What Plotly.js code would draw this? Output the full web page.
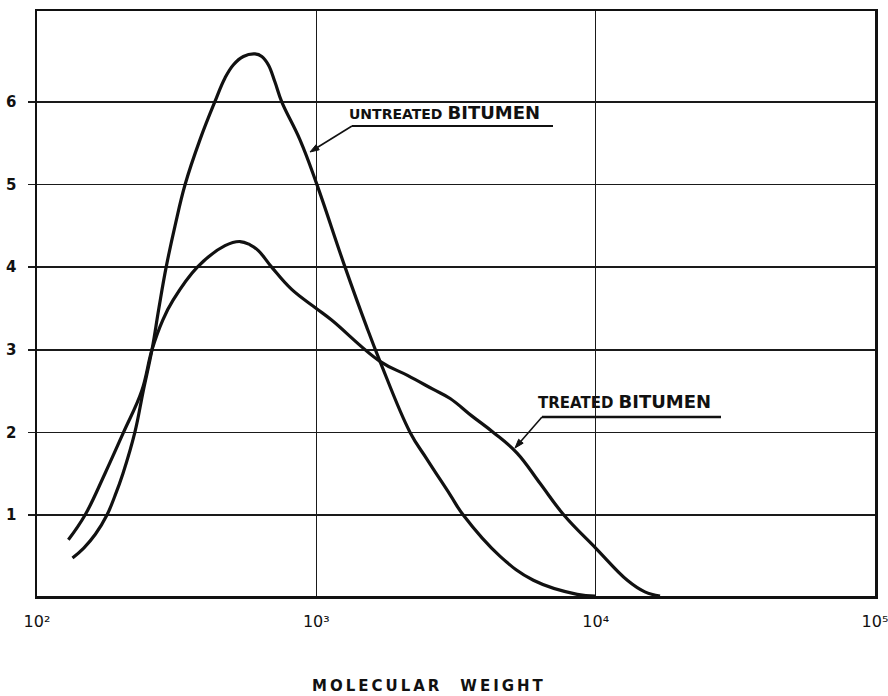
<!DOCTYPE html>
<html>
<head>
<meta charset="utf-8">
<script src="https://cdn.plot.ly/plotly-3.0.1.min.js"></script>
<style>
  html, body { margin: 0; padding: 0; background: #ffffff; }
  #chart { width: 888px; height: 696px; }
</style>
</head>
<body>
<div id="chart"></div>
<script>
// ---- data ----
const untreatedMW = [134, 147, 162, 178, 190, 203, 224, 240, 258, 273, 290, 312, 339, 383, 433, 471, 505, 548, 603, 638, 673, 711, 752, 874, 1000, 1267, 1513, 1690, 2166, 2484, 3006, 3357, 4550, 5985, 8590, 10000];
const untreatedVal = [0.48, 0.60, 0.77, 1.0, 1.23, 1.5, 2.0, 2.5, 3.0, 3.5, 4.0, 4.5, 5.0, 5.54, 6.0, 6.29, 6.45, 6.55, 6.58, 6.55, 6.45, 6.24, 6.0, 5.54, 5.02, 4.0, 3.28, 2.86, 2.0, 1.68, 1.25, 1.0, 0.5, 0.21, 0.04, 0.02];

const treatedMW = [129.5, 148.6, 175, 204, 237, 258, 282, 307, 375, 471, 533, 579, 620, 692, 816, 1000, 1134, 1690, 2120, 2624, 3013, 3600, 4303, 5231, 6300, 7694, 10000, 12980, 15000, 17000];
const treatedVal = [0.70, 1.0, 1.5, 2.0, 2.5, 3.0, 3.36, 3.60, 4.0, 4.26, 4.31, 4.27, 4.20, 4.0, 3.73, 3.50, 3.36, 2.86, 2.69, 2.52, 2.41, 2.2, 2.0, 1.75, 1.39, 1.0, 0.60, 0.21, 0.07, 0.02];

const xTickVals = [100, 1000, 10000, 100000];
const xTickText = ['10\u00B2', '10\u00B3', '10\u2074', '10\u2075'];
const yTickVals = [1, 2, 3, 4, 5, 6];
const yTickText = ['1', '2', '3', '4', '5', '6'];

const seriesNames = ['UNTREATED BITUMEN', 'TREATED BITUMEN'];
const xTitle = 'MOLECULAR WEIGHT';

// ---- drawing ----
const ink = '#111111';
const lineStyle = { color: ink, width: 3.2, shape: 'spline', smoothing: 1.15 };

const traces = [
  { x: untreatedMW, y: untreatedVal, name: seriesNames[0], mode: 'lines', line: lineStyle, hoverinfo: 'x+y' },
  { x: treatedMW, y: treatedVal, name: seriesNames[1], mode: 'lines', line: lineStyle, hoverinfo: 'x+y' }
];

// plot box: left 37, right 875, top 11, bottom 596 (pixels)
const L = 37, R = 875, T = 11, B = 596;
const px = v => (v - L) / (R - L);
const py = v => (B - v) / (B - T);

function spaced(s) {
  return s.split('').map(c => c === ' ' ? '\u2002\u2002' : c).join('\u2009');
}

// leader line with a small filled arrowhead, pixel points -> paper coords
function leader(tailX, tailY, headX, headY) {
  const dx = tailX - headX, dy = tailY - headY;
  const len = Math.hypot(dx, dy);
  const ux = dx / len, uy = dy / len;
  const bx = headX + ux * 9, by = headY + uy * 9;
  const nx = -uy, ny = ux;
  const p = (x, y) => px(x).toFixed(5) + ',' + py(y).toFixed(5);
  return [
    { type: 'line', xref: 'paper', yref: 'paper', x0: px(tailX), y0: py(tailY), x1: px(bx), y1: py(by), line: { color: ink, width: 1.6 } },
    { type: 'path', xref: 'paper', yref: 'paper',
      path: 'M' + p(headX, headY) + ' L' + p(bx + nx * 3, by + ny * 3) + ' L' + p(bx - nx * 3, by - ny * 3) + ' Z',
      fillcolor: ink, line: { color: ink, width: 1 } }
  ];
}

const layout = {
  width: 888, height: 696,
  margin: { l: L, r: 888 - R, t: T, b: 696 - B },
  paper_bgcolor: '#ffffff', plot_bgcolor: '#ffffff',
  showlegend: false,
  font: { family: 'DejaVu Sans, sans-serif', color: ink },
  xaxis: {
    type: 'log', range: [2, 5],
    tickvals: xTickVals, ticktext: xTickText,
    ticks: '', ticklabelstandoff: 9, ticklabeloverflow: 'allow',
    tickfont: { family: 'DejaVu Sans, sans-serif', size: 16, color: ink },
    showgrid: true, gridcolor: '#1a1a1a', gridwidth: 1.6,
    showline: true, linecolor: ink, linewidth: 2.5, mirror: true,
    zeroline: false, fixedrange: true
  },
  yaxis: {
    range: [0.02, 7.10],
    tickvals: yTickVals, ticktext: yTickText,
    ticks: 'outside', ticklen: 7, tickwidth: 1.5, tickcolor: '#1a1a1a',
    ticklabelstandoff: 8,
    tickfont: { family: 'DejaVu Sans, sans-serif', size: 15, color: ink, weight: 'bold' },
    showgrid: true, gridcolor: '#1a1a1a', gridwidth: 1.6,
    showline: true, linecolor: ink, linewidth: 2.5, mirror: true,
    zeroline: false, fixedrange: true
  },
  shapes: [
    { type: 'line', xref: 'paper', yref: 'paper', x0: px(352), x1: px(553), y0: py(126), y1: py(126), line: { color: ink, width: 2.2 } },
    { type: 'line', xref: 'paper', yref: 'paper', x0: px(542), x1: px(721), y0: py(417), y1: py(417), line: { color: ink, width: 2.6 } }
  ].concat(leader(352, 126, 310, 152), leader(542, 417, 515, 448)),
  annotations: [
    { xref: 'paper', yref: 'paper', x: px(347), y: py(112), xanchor: 'left', yanchor: 'middle', showarrow: false,
      text: '<span style="font-size:14px;font-weight:bold">UNTREATED</span> <span style="font-size:18px;font-weight:bold">BITUMEN</span>',
      font: { family: 'DejaVu Sans, sans-serif', size: 16, color: ink } },
    { xref: 'paper', yref: 'paper', x: px(536), y: py(401), xanchor: 'left', yanchor: 'middle', showarrow: false,
      text: '<span style="font-size:15px;font-weight:bold">TREATED</span> <span style="font-size:18px;font-weight:bold">BITUMEN</span>',
      font: { family: 'DejaVu Sans, sans-serif', size: 16, color: ink } },
    { xref: 'paper', yref: 'paper', x: px(428), y: py(686), xanchor: 'center', yanchor: 'middle', showarrow: false,
      text: spaced(xTitle),
      font: { family: 'DejaVu Sans, sans-serif', size: 15, weight: 'bold', color: ink } }
  ]
};

Plotly.newPlot('chart', traces, layout, { staticPlot: true, displayModeBar: false });
</script>
</body>
</html>
